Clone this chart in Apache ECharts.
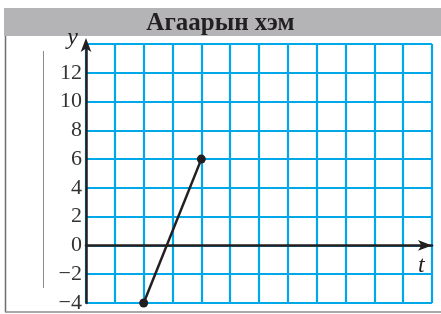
<!DOCTYPE html>
<html>
<head>
<meta charset="utf-8">
<script src="https://cdn.jsdelivr.net/npm/echarts@6/dist/echarts.min.js"></script>
<style>
  html, body { margin: 0; padding: 0; background: #fff; }
  #chart { width: 441px; height: 314px; }
</style>
</head>
<body>
<div id="chart"></div>
<script>
const titleText = "Агаарын хэм";
const tValues = [2, 4];       // t
const yValues = [-4, 6];      // temperature
const xRange = [0, 12];
const yRange = [-4, 14];

const chart = echarts.init(document.getElementById("chart"));
const serif = "Liberation Serif";
const gridBlue = "#00a8e8";

chart.setOption({
  animation: false,
  title: {
    text: titleText,
    left: "center",
    top: 6,
    textStyle: { fontFamily: serif, fontSize: 25, fontWeight: "bold", color: "#231f20" },
  },
  grid: { left: 86, top: 44, width: 346, height: 259 },
  xAxis: {
    type: "value",
    min: xRange[0],
    max: xRange[1],
    interval: 1,
    axisLine: {
      onZero: true,
      lineStyle: { color: "#231f20", width: 2.5 },
      symbol: ["none", "arrow"],
      symbolSize: [8, 14],
    },
    axisTick: { show: false },
    axisLabel: { show: false },
    splitLine: { show: true, lineStyle: { color: gridBlue, width: 2.2 } },
    name: "t",
    nameLocation: "end",
    nameGap: -14,
    nameTextStyle: {
      fontFamily: serif, fontStyle: "italic", fontSize: 24, color: "#231f20",
      verticalAlign: "top", padding: [8, 0, 0, 0],
    },
  },
  yAxis: {
    type: "value",
    min: yRange[0],
    max: yRange[1],
    interval: 2,
    axisLine: {
      onZero: false,
      lineStyle: { color: "#231f20", width: 2.5 },
      symbol: ["none", "arrow"],
      symbolSize: [8, 14],
      symbolOffset: [0, 6],
    },
    axisTick: { show: false },
    axisLabel: {
      margin: 4,
      fontFamily: serif,
      fontSize: 22,
      color: "#333",
      formatter: (v) => (v === yRange[1] ? "" : String(v).replace("-", "\u2212")),
    },
    splitLine: { show: true, lineStyle: { color: gridBlue, width: 2.2 } },
    name: "y",
    nameLocation: "end",
    nameGap: -6,
    nameTextStyle: {
      fontFamily: serif, fontStyle: "italic", fontSize: 24, color: "#231f20",
      align: "right", padding: [0, 8, 0, 0],
    },
  },
  graphic: [
    // title band
    { type: "rect", z: -1, shape: { x: 4, y: 8, width: 437, height: 28 }, style: { fill: "#b4b4b6" } },
    // frame
    { type: "line", shape: { x1: 5.5, y1: 36, x2: 5.5, y2: 312 }, style: { stroke: "#6d6e71", lineWidth: 1.5 } },
    { type: "line", shape: { x1: 5, y1: 312, x2: 441, y2: 312 }, style: { stroke: "#8a8b8d", lineWidth: 1.5 } },
    { type: "line", shape: { x1: 43.5, y1: 51, x2: 43.5, y2: 288 }, style: { stroke: "#8a8b8d", lineWidth: 1 } },
  ],
  series: [
    {
      type: "line",
      data: tValues.map((t, i) => [t, yValues[i]]),
      symbol: "circle",
      symbolSize: 9,
      lineStyle: { color: "#231f20", width: 2.5 },
      itemStyle: { color: "#231f20" },
      z: 5,
    },
  ],
});
</script>
</body>
</html>
